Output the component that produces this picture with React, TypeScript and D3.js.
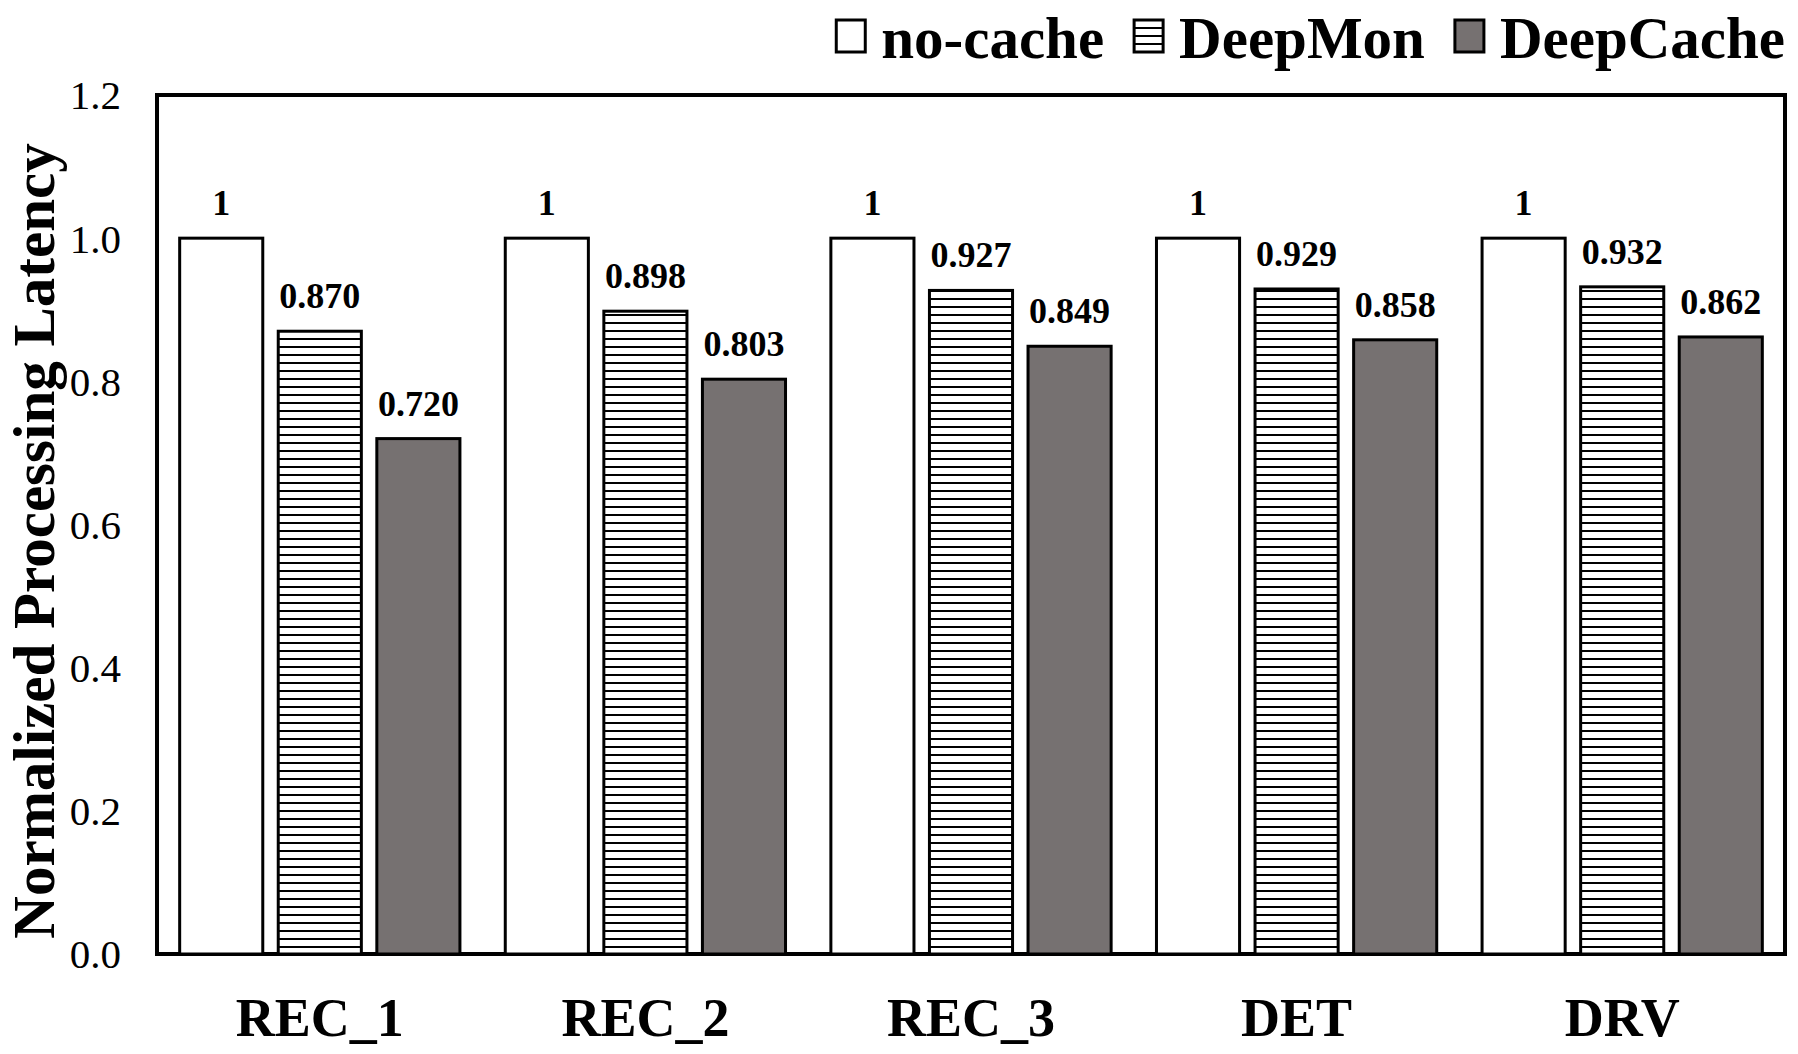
import { useEffect, useRef } from "react";
import * as d3 from "d3";

const categories = ["REC_1", "REC_2", "REC_3", "DET", "DRV"];
const seriesNames = ["no-cache", "DeepMon", "DeepCache"];
const noCache = [1, 1, 1, 1, 1];
const deepMon = [0.87, 0.898, 0.927, 0.929, 0.932];
const deepCache = [0.72, 0.803, 0.849, 0.858, 0.862];
const yTicks = [0, 0.2, 0.4, 0.6, 0.8, 1.0, 1.2];

const W = 1798;
const H = 1054;
const FONT = "'Liberation Serif', 'Times New Roman', serif";

export default function App() {
  const svgRef = useRef<SVGSVGElement | null>(null);

  useEffect(() => {
    if (!svgRef.current) return;
    const svg = d3.select(svgRef.current);
    svg.selectAll("*").remove();

    const margin = { top: 95, right: 13, bottom: 100, left: 157 };
    const innerW = W - margin.left - margin.right;
    const innerH = H - margin.top - margin.bottom;

    const values = [noCache, deepMon, deepCache];
    const fills = ["#ffffff", "url(#hatch)", "#767171"];

    const defs = svg.append("defs");
    const pat = defs
      .append("pattern")
      .attr("id", "hatch")
      .attr("patternUnits", "userSpaceOnUse")
      .attr("width", 8)
      .attr("height", 8);
    pat.append("rect").attr("width", 8).attr("height", 8).attr("fill", "#fff");
    pat
      .append("rect")
      .attr("y", 3)
      .attr("width", 8)
      .attr("height", 2)
      .attr("fill", "#000");

    const g = svg
      .append("g")
      .attr("transform", `translate(${margin.left},${margin.top})`);

    const x0 = d3.scaleBand().domain(categories).range([0, innerW]).padding(0);
    const x1 = d3
      .scaleBand()
      .domain(seriesNames)
      .range([0, x0.bandwidth()])
      .paddingInner(0.157)
      .paddingOuter(0.23);
    const y = d3.scaleLinear().domain([0, 1.2]).range([innerH, 0]);

    // frame
    g.append("rect")
      .attr("width", innerW)
      .attr("height", innerH)
      .attr("fill", "none")
      .attr("stroke", "#000")
      .attr("stroke-width", 4);

    // y tick labels
    g.selectAll(".ytick")
      .data(yTicks)
      .join("text")
      .attr("x", -36)
      .attr("y", (d) => y(d))
      .attr("dy", "0.35em")
      .attr("text-anchor", "end")
      .attr("font-family", FONT)
      .attr("font-size", 41)
      .text((d) => d3.format(".1f")(d));

    // bars
    categories.forEach((cat, ci) => {
      const grp = g.append("g").attr("transform", `translate(${x0(cat)},0)`);
      seriesNames.forEach((s, si) => {
        const v = values[si][ci];
        grp
          .append("rect")
          .attr("x", x1(s)!)
          .attr("y", y(v))
          .attr("width", x1.bandwidth())
          .attr("height", innerH - y(v))
          .attr("fill", fills[si])
          .attr("stroke", "#000")
          .attr("stroke-width", 3);
        grp
          .append("text")
          .attr("x", x1(s)! + x1.bandwidth() / 2)
          .attr("y", y(v) - 23)
          .attr("text-anchor", "middle")
          .attr("font-family", FONT)
          .attr("font-weight", "bold")
          .attr("font-size", 36)
          .text(v === 1 ? "1" : d3.format(".3f")(v));
      });
    });

    // x labels
    g.selectAll(".xlab")
      .data(categories)
      .join("text")
      .attr("x", (d) => x0(d)! + x0.bandwidth() / 2)
      .attr("y", innerH + 82)
      .attr("text-anchor", "middle")
      .attr("font-family", FONT)
      .attr("font-weight", "bold")
      .attr("font-size", 54)
      .text((d) => d);

    // y title
    svg
      .append("text")
      .attr("transform", `translate(54,541) rotate(-90)`)
      .attr("text-anchor", "middle")
      .attr("font-family", FONT)
      .attr("font-weight", "bold")
      .attr("font-size", 59)
      .text("Normalized Processing Latency");

    // legend, laid out right to left from the frame's right edge
    const legend = svg.append("g");
    const items = seriesNames.map((s, i) => {
      const it = legend.append("g");
      it.append("rect")
        .attr("x", 0)
        .attr("y", 20)
        .attr("width", 29)
        .attr("height", 32)
        .attr("fill", fills[i])
        .attr("stroke", "#000")
        .attr("stroke-width", 3);
      const t = it
        .append("text")
        .attr("x", 45)
        .attr("y", 58)
        .attr("font-family", FONT)
        .attr("font-weight", "bold")
        .attr("font-size", 59)
        .text(s);
      const tw = (t.node() as SVGTextElement).getComputedTextLength();
      return { it, w: 45 + tw };
    });
    let cx = W - margin.right;
    for (let i = items.length - 1; i >= 0; i--) {
      cx -= items[i].w;
      items[i].it.attr("transform", `translate(${cx},0)`);
      cx -= 30;
    }
  }, []);

  return (
    <svg
      ref={svgRef}
      width={W}
      height={H}
      style={{ position: "absolute", left: 0, top: 0, background: "#fff" }}
    />
  );
}
